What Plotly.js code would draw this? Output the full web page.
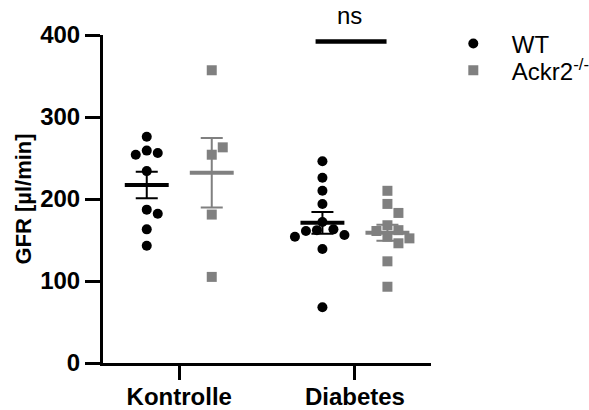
<!DOCTYPE html>
<html>
<head>
<meta charset="utf-8">
<script src="https://cdn.plot.ly/plotly-3.0.1.min.js"></script>
<style>html,body{margin:0;padding:0;background:#fff}</style>
</head>
<body>
<div id="chart" style="width:589px;height:410px"></div>
<script>
// Groups on the x axis and the two genotypes
const categories = ['Kontrolle', 'Diabetes'];
const seriesNames = ['WT', 'Ackr2<sup>-/-</sup>'];

// GFR per animal [µl/min]
const wtKontrolle    = [276, 259, 256, 254, 234, 187, 182, 163, 143];
const wtDiabetes     = [246, 226, 210, 194, 172, 163, 162, 161, 156, 154, 139, 68];
const ackr2Kontrolle = [357, 254, 263, 181, 105];
const ackr2Diabetes  = [210, 194, 183, 168, 162, 161, 154, 152, 146, 124, 93];

const yTicks = [0, 100, 200, 300, 400];
const sigLabel = 'ns';

// ---- layout geometry ----
const W = 589, H = 410;
const margin = {l: 103, r: 158, t: 35, b: 47, pad: 0, autoexpand: false};
const xRange = [-0.434, 1.433];
const yRange = [0, 400];
const plotW = W - margin.l - margin.r;
const plotH = H - margin.t - margin.b;
const pxPerX = plotW / (xRange[1] - xRange[0]);
const pxPerY = plotH / (yRange[1] - yRange[0]);

const FONT = 'Liberation Sans, Arial, Helvetica, sans-serif';
const BLACK = '#000000';
const GREY = '#808080';
const MARKER = 10;
const groupShift = 0.185;   // genotype offset from the category centre
const meanHalf = 0.125;     // half length of the mean line

// Simple beeswarm: each point takes the nearest free lane so markers do not overlap
function swarm(values, shape) {
  const step = MARKER * 0.55;
  const placed = [];
  return values.map(v => {
    const py = v * pxPerY;
    for (let k = 0; k < 60; k++) {
      const n = Math.ceil(k / 2);
      const off = (k % 2 === 1 ? 1 : -1) * n * step;
      const hit = placed.some(p => shape === 'circle'
        ? Math.hypot(p.dx - off, p.py - py) < MARKER * 0.95
        : Math.abs(p.dx - off) < MARKER && Math.abs(p.py - py) < MARKER);
      if (!hit) { placed.push({dx: off, py: py}); return off / pxPerX; }
    }
    return 0;
  });
}

const mean = a => a.reduce((s, v) => s + v, 0) / a.length;
const sem = a => {
  const m = mean(a);
  return Math.sqrt(a.reduce((s, v) => s + (v - m) * (v - m), 0) / (a.length - 1) / a.length);
};

const genotypes = [
  {name: seriesNames[0], groups: [wtKontrolle, wtDiabetes], shift: -groupShift,
   color: BLACK, symbol: 'circle', legend: 'legend'},
  {name: seriesNames[1], groups: [ackr2Kontrolle, ackr2Diabetes], shift: groupShift,
   color: GREY, symbol: 'square', legend: 'legend2'}
];

const traces = [];
const summaries = [];
genotypes.forEach(g => {
  const xs = [], ys = [];
  g.groups.forEach((vals, ci) => {
    const centre = ci + g.shift;
    swarm(vals, g.symbol).forEach((o, i) => { xs.push(centre + o); ys.push(vals[i]); });
    const m = mean(vals), e = sem(vals);
    summaries.push({
      type: 'scatter', mode: 'lines', x: [centre - meanHalf, centre + meanHalf], y: [m, m],
      line: {color: g.color, width: 4}, showlegend: false, hoverinfo: 'skip'
    });
    summaries.push({
      type: 'scatter', mode: 'markers', x: [centre], y: [m],
      marker: {size: 1, opacity: 0, color: g.color},
      error_y: {type: 'data', array: [e], visible: true, color: g.color, thickness: 2, width: 11},
      showlegend: false, hoverinfo: 'skip'
    });
  });
  traces.push({
    type: 'scatter', mode: 'markers', name: g.name, x: xs, y: ys,
    marker: {symbol: g.symbol, size: MARKER, color: g.color, line: {width: 0}},
    legend: g.legend, cliponaxis: false
  });
});

const legendBase = {
  xanchor: 'left', yanchor: 'middle', x: 1.0116,
  font: {family: FONT, size: 24, color: BLACK},
  itemwidth: 67, bgcolor: 'rgba(0,0,0,0)', borderwidth: 0
};

const layout = {
  width: W, height: H, margin: margin,
  paper_bgcolor: '#ffffff', plot_bgcolor: '#ffffff',
  font: {family: FONT, color: BLACK},
  showlegend: true,
  legend: Object.assign({}, legendBase, {y: 0.9726}),
  legend2: Object.assign({}, legendBase, {y: 0.891}),
  xaxis: {
    range: xRange, tickmode: 'array', tickvals: [0, 1], ticktext: categories,
    ticks: 'outside', ticklen: 14, tickwidth: 3, tickcolor: BLACK,
    showline: true, linewidth: 3, linecolor: BLACK,
    showgrid: false, zeroline: false, fixedrange: true, ticklabelstandoff: -4,
    tickfont: {family: FONT, size: 24, weight: 'bold', color: BLACK}
  },
  yaxis: {
    range: yRange, tickmode: 'array', tickvals: yTicks,
    ticks: 'outside', ticklen: 15, tickwidth: 3, tickcolor: BLACK,
    showline: true, linewidth: 3, linecolor: BLACK,
    showgrid: false, zeroline: false, fixedrange: true,
    tickfont: {family: FONT, size: 24, weight: 'bold', color: BLACK},
    title: {text: 'GFR [µl/min]', standoff: 3,
            font: {family: FONT, size: 22, weight: 'bold', color: BLACK}}
  },
  shapes: [{
    type: 'line', xref: 'x', yref: 'y', x0: 0.776, x1: 1.18, y0: 392, y1: 392,
    line: {color: BLACK, width: 4.5}
  }],
  annotations: [{
    text: sigLabel, xref: 'x', yref: 'paper', x: 0.97, y: 1.058,
    xanchor: 'center', yanchor: 'middle', showarrow: false,
    font: {family: FONT, size: 24, color: BLACK}
  }]
};

Plotly.newPlot('chart', traces.concat(summaries), layout, {staticPlot: true, displayModeBar: false});
</script>
</body>
</html>
